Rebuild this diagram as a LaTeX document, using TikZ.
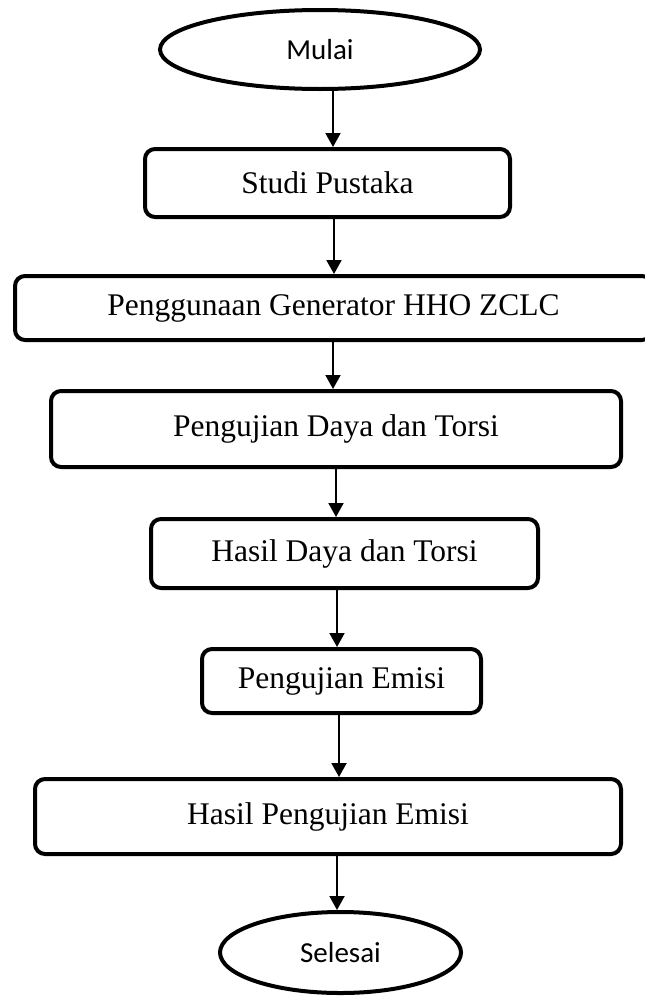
\documentclass[tikz,border=0pt]{standalone}
\usepackage{fontspec}
\setmainfont{Liberation Serif}
\newfontfamily\calib{Carlito}
\usetikzlibrary{shapes.geometric,arrows.meta}
\begin{document}
\begin{tikzpicture}[x=1pt,y=-1pt,
  procbox/.style={draw, line width=4pt, rounded corners=10pt, inner sep=0pt,
    font=\fontsize{31.5}{36}\selectfont},
  termbox/.style={draw, ellipse, line width=4pt, inner sep=0pt,
    font=\calib\fontsize{29}{34}\selectfont},
  arr/.style={line width=2pt, -{Triangle[width=15pt,length=14pt]}}]
\useasboundingbox (0,0) rectangle (645,996);
\clip (0,0) rectangle (645,996);

\node[termbox, minimum width=320pt, minimum height=79pt] (mulai) at (320,49.5) {Mulai};
\node[procbox, minimum width=365pt, minimum height=68pt] (studi) at (327.5,183) {Studi Pustaka};
\node[procbox, minimum width=637pt, minimum height=64pt] (guna) at (333.5,308) {Penggunaan Generator HHO ZCLC};
\node[procbox, minimum width=570pt, minimum height=76pt] (daya) at (336,429) {Pengujian Daya dan Torsi};
\node[procbox, minimum width=387pt, minimum height=69pt] (hdaya) at (344.5,553.5) {Hasil Daya dan Torsi};
\node[procbox, minimum width=279pt, minimum height=64pt] (emisi) at (341.5,681) {Pengujian Emisi};
\node[procbox, minimum width=586pt, minimum height=75pt] (hemisi) at (328,816.5) {Hasil Pengujian Emisi};
\node[termbox, minimum width=241pt, minimum height=81pt] (selesai) at (340.5,952.5) {Selesai};

\coordinate (x1) at (333,0);
\coordinate (x2) at (334,0);
\coordinate (x3) at (333,0);
\coordinate (x4) at (336,0);
\coordinate (x5) at (337,0);
\coordinate (x6) at (339,0);
\coordinate (x7) at (337,0);

\draw[arr] (mulai.south -| x1) -- (studi.north -| x1);
\draw[arr] (studi.south -| x2) -- (guna.north -| x2);
\draw[arr] (guna.south -| x3) -- (daya.north -| x3);
\draw[arr] (daya.south -| x4) -- (hdaya.north -| x4);
\draw[arr] (hdaya.south -| x5) -- (emisi.north -| x5);
\draw[arr] (emisi.south -| x6) -- (hemisi.north -| x6);
\draw[arr] (hemisi.south -| x7) -- (selesai.north -| x7);
\end{tikzpicture}
\end{document}
